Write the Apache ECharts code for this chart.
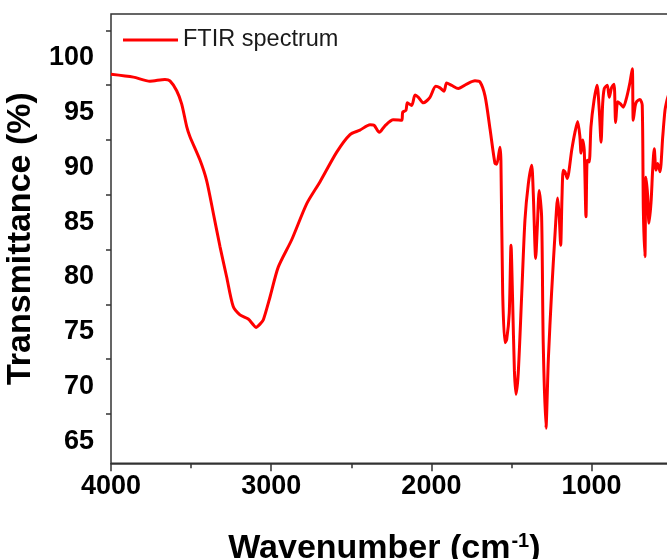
<!DOCTYPE html>
<html>
<head>
<meta charset="utf-8">
<script src="https://cdn.jsdelivr.net/npm/echarts@6/dist/echarts.min.js"></script>
<style>
html,body{margin:0;padding:0;background:#fff;}
#chart{width:667px;height:559px;}
</style>
</head>
<body>
<div id="chart"></div>
<script>
// Wavenumber (cm-1), decreasing
var wavenumbers = [4000,3860,3757,3663,3632,3590,3559,3527,3507,3444,3403,3361,3320,3278,3237,3195,3143,3115,3095,3070,3049,3007,2956,2872,2778,2695,2591,2508,2446,2383,2358,2325,2290,2238,2185,2179,2159,2150,2123,2102,2081,2050,2009,1973,1946,1921,1905,1873,1832,1780,1728,1697,1665,1634,1603,1592,1572,1566,1555,1541,1530,1514,1503,1493,1482,1472,1458,1436,1416,1395,1374,1364,1349,1339,1327,1312,1302,1285,1270,1250,1228,1212,1202,1193,1185,1177,1166,1152,1124,1104,1087,1073,1066,1056,1046,1035,1027,1015,1004,985,966,952,941,931,921,902,890,875,860,850,837,820,802,781,760,746,740,728,719,698,684,677,667,661,650,642,629,619,609,598,587,573,556,542,530,520];
// Transmittance (%)
var transmittance = [98.5,98.24,97.87,98.03,97.9,97.0,95.8,93.7,92.8,90.65,88.8,85.8,82.8,80.0,77.3,76.55,76.16,75.7,75.4,75.7,76.1,78.2,80.9,83.4,86.7,88.7,91.4,93.0,93.4,93.9,93.85,93.2,93.8,94.35,94.3,95.05,95.2,95.9,95.65,96.6,96.4,95.9,96.4,97.4,97.26,96.96,97.7,97.48,97.2,97.6,97.9,97.8,96.5,93.5,90.35,90.3,91.85,90.6,78.5,74.0,74.3,76.7,82.9,77.9,71.5,69.3,71.2,78.5,85.2,88.5,90.2,87.6,81.7,84.5,87.9,85.5,74.0,66.2,72.5,78.5,84.0,87.2,85.5,82.9,87.2,89.75,89.6,89.0,91.6,93.2,94.2,92.8,91.3,92.5,91.6,85.5,90.65,90.5,93.7,96.1,97.5,95.2,92.3,95.8,97.2,97.5,96.4,97.3,97.6,94.1,96.0,95.8,95.5,96.4,97.8,99.0,94.3,95.6,96.0,96.2,95.7,86.1,81.85,89.1,87.4,84.9,86.8,89.75,91.7,89.75,90.35,89.6,92.8,95.2,96.1,96.6];
var yTickLabels = [65,70,75,80,85,90,95,100];
var yMinorTicks = [67.5,72.5,77.5,82.5,87.5,92.5,97.5,102.5];
var seriesName = 'FTIR spectrum';

var data = wavenumbers.map(function(w,i){return [w, transmittance[i]];});
var FONT = '"Liberation Sans", Arial, Helvetica, sans-serif';
var AX = '#333';

var chart = echarts.init(document.getElementById('chart'), null, {renderer:'canvas'});
chart.setOption({
  animation:false,
  backgroundColor:'#fff',
  grid:{left:111, top:14, width:640.8, height:449.3, show:true, borderColor:AX, borderWidth:1.5, containLabel:false, outerBoundsMode:'none'},
  legend:{
    left:118, top:23, itemWidth:55, itemHeight:3, itemGap:10,
    icon:'rect',
    textStyle:{fontFamily:FONT, fontSize:23.5, color:'#1a1a1a'},
    data:[{name:seriesName, icon:'rect'}]
  },
  xAxis:{
    type:'value', min:0, max:4000, interval:1000, inverse:true,
    name:'{a|Wavenumber (cm}{s|-1}{a|)}', nameLocation:'middle', nameGap:68,
    nameTextStyle:{padding:[0,94,0,0], rich:{
      a:{fontFamily:FONT, fontSize:34, fontWeight:'bold', color:'#000'},
      s:{fontFamily:FONT, fontSize:20, fontWeight:'bold', color:'#000', verticalAlign:'top', padding:[0,0,0,1]}
    }},
    axisLine:{show:true, lineStyle:{color:AX, width:1.5}},
    axisTick:{show:true, inside:false, length:8, lineStyle:{color:AX, width:1.5}},
    minorTick:{show:true, splitNumber:2, length:5, lineStyle:{color:AX, width:1.5}},
    axisLabel:{fontFamily:FONT, fontSize:27, fontWeight:'bold', color:'#000', margin:10,
      formatter:function(v){return (v===0)?'':String(v);}},
    splitLine:{show:false}
  },
  yAxis:[{
    type:'value', min:63, max:104, position:'left', offset:0,
    name:'Transmittance (%)', nameLocation:'middle', nameGap:69,
    nameTextStyle:{fontFamily:FONT, fontSize:34, fontWeight:'bold', color:'#000'},
    axisLine:{show:true, lineStyle:{color:AX, width:1.5}},
    axisTick:{show:true, inside:false, length:9, customValues:yTickLabels, lineStyle:{color:AX, width:1.5}},
    axisLabel:{fontFamily:FONT, fontSize:27, fontWeight:'bold', color:'#000', margin:17, customValues:yTickLabels},
    splitLine:{show:false}
  },{
    type:'value', min:63, max:104, position:'left', offset:0,
    axisLine:{show:false},
    axisTick:{show:true, inside:false, length:5, customValues:yMinorTicks, lineStyle:{color:AX, width:1.5}},
    axisLabel:{show:false},
    splitLine:{show:false}
  }],
  series:[{
    name:seriesName, type:'line', data:data, showSymbol:false, symbol:'none',
    smooth:0.25, clip:true,
    lineStyle:{color:'#ff0000', width:3},
    itemStyle:{color:'#ff0000'}
  }]
});
</script>
</body>
</html>
